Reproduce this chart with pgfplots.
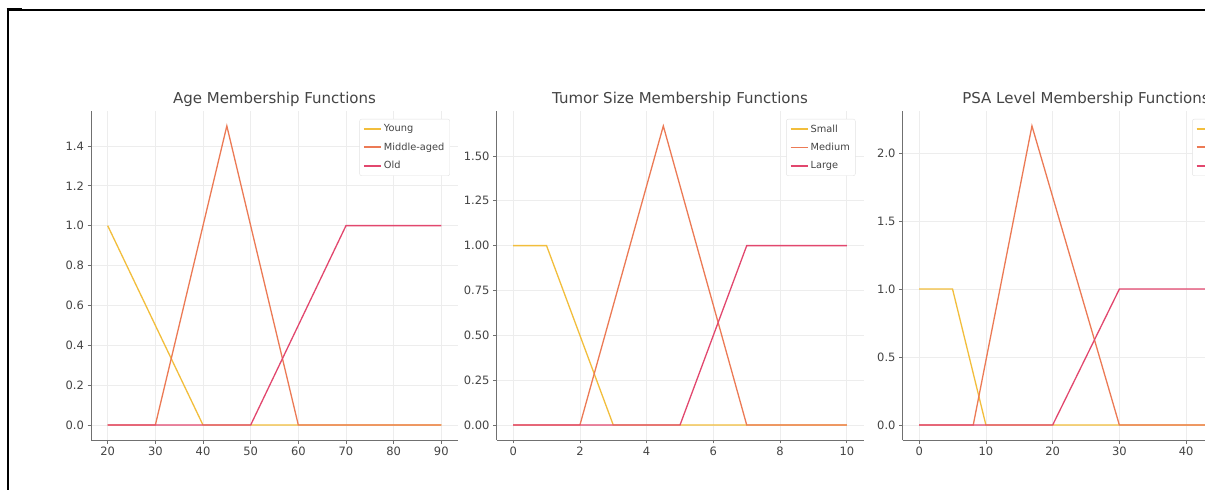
\documentclass[border=0pt]{standalone}
\usepackage{fontspec}
\setmainfont{DejaVu Sans}
\usepackage{pgfplots}
\pgfplotsset{compat=1.18}
\definecolor{cyoung}{HTML}{F2BE3C}
\definecolor{cmid}{HTML}{EC7A55}
\definecolor{cold}{HTML}{E2476E}
\definecolor{txt}{HTML}{444444}
\definecolor{spine}{HTML}{707070}
\definecolor{lframe}{HTML}{E2E2E2}
\pgfplotsset{
  mf/.style={
    scale only axis, width=367pt, height=329pt, anchor=south west,
    axis x line*=bottom, axis y line*=left,
    axis line style={draw=spine, line width=0.9pt},
    grid=major, grid style={draw=black!7, line width=0.7pt},
    tick style={draw=spine, line width=0.7pt},
    tick align=outside, major tick length=3.5pt,
    ticklabel style={font=\fontsize{11.5}{13}\selectfont, text=txt},
    /pgf/number format/assume math mode=true,
    title style={font=\fontsize{15}{18}\selectfont, text=txt, at={(0.5,1)}, anchor=south, yshift=-5pt},
    legend style={at={(1,1)}, anchor=north east, xshift=-8pt, yshift=-8pt,
      draw=lframe, font=\fontsize{9.8}{11}\selectfont, text=txt,
      rounded corners=2pt, row sep=5.5pt, inner sep=3.5pt},
    legend cell align=left,
    legend image post style={line width=1.7pt},
    every axis plot/.append style={line width=1.3pt},
  }
}
\begin{document}
\begin{tikzpicture}
\useasboundingbox (0,0) rectangle (1205pt,490pt);
\clip (0,0) rectangle (1205pt,490pt);
\fill[white] (0,0) rectangle (1205pt,490pt);
\draw[black, line width=1.2pt] (7pt,480pt) -- (1205pt,480pt);
\draw[black, line width=2pt] (7.5pt,481pt) -- (7.5pt,0pt);
\draw[black, line width=3pt] (6.5pt,480pt) -- (22pt,480pt);

% Panel 1
\begin{axis}[mf, at={(91pt,50pt)},
  title={Age Membership Functions},
  xmin=16.5, xmax=93.5, ymin=-0.075, ymax=1.575,
  xtick={20,30,...,90},
  ytick={0,0.2,0.4,0.6,0.8,1.0,1.2,1.4},
  yticklabel style={/pgf/number format/.cd, fixed, fixed zerofill, precision=1},
]
\addplot[color=cyoung, draw=cyoung] coordinates {(20,1) (40,0) (90,0)};
\addlegendentry{Young}
\addplot[color=cmid, draw=cmid] coordinates {(20,0) (30,0) (45,1.5) (60,0) (90,0)};
\addlegendentry{Middle-aged}
\addplot[color=cold, draw=cold] coordinates {(20,0) (50,0) (70,1) (90,1)};
\addlegendentry{Old}
\end{axis}

% Panel 2
\begin{axis}[mf, at={(496.5pt,50pt)},
  title={Tumor Size Membership Functions},
  xmin=-0.5, xmax=10.5, ymin=-0.0834, ymax=1.7504,
  xtick={0,2,...,10},
  ytick={0,0.25,0.5,0.75,1.0,1.25,1.5},
  yticklabel style={/pgf/number format/.cd, fixed, fixed zerofill, precision=2},
]
\addplot[color=cyoung, draw=cyoung] coordinates {(0,1) (1,1) (3,0) (10,0)};
\addlegendentry{Small}
\addplot[color=cmid, draw=cmid] coordinates {(0,0) (2,0) (4.5,1.667) (7,0) (10,0)};
\addlegendentry{Medium}
\addplot[color=cold, draw=cold] coordinates {(0,0) (5,0) (7,1) (10,1)};
\addlegendentry{Large}
\end{axis}

% Panel 3
\begin{axis}[mf, at={(902.5pt,50pt)},
  title={PSA Level Membership Functions},
  xmin=-2.5, xmax=52.5, ymin=-0.11, ymax=2.31,
  xtick={0,10,...,50},
  ytick={0,0.5,1.0,1.5,2.0},
  yticklabel style={/pgf/number format/.cd, fixed, fixed zerofill, precision=1},
]
\addplot[color=cyoung, draw=cyoung] coordinates {(0,1) (5,1) (10,0) (50,0)};
\addlegendentry{Low}
\addplot[color=cmid, draw=cmid] coordinates {(0,0) (8.1,0) (16.9,2.2) (30,0) (50,0)};
\addlegendentry{Medium}
\addplot[color=cold, draw=cold] coordinates {(0,0) (20,0) (30,1) (50,1)};
\addlegendentry{High}
\end{axis}
\end{tikzpicture}
\end{document}
